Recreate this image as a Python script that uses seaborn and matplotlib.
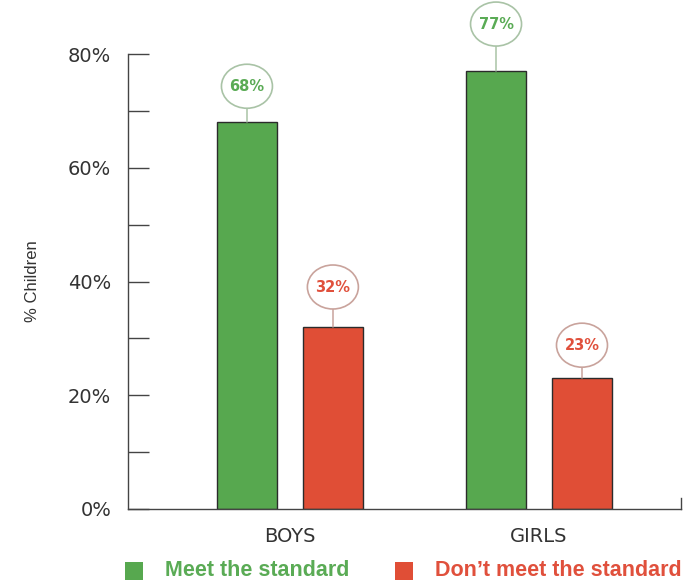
import matplotlib
matplotlib.use("Agg")
import matplotlib.pyplot as plt
from matplotlib.patches import Ellipse, Rectangle
from matplotlib.ticker import MultipleLocator, FuncFormatter
import seaborn as sns
import pandas as pd

groups = ["BOYS", "GIRLS"]
series = ["Meet the standard", "Don\u2019t meet the standard"]
meet = [68, 77]
dont_meet = [32, 23]
colors = ["#57a84f", "#e04e36"]
label_colors = ["#5aab55", "#e0503c"]
ring_colors = ["#a9c3a6", "#c9a39c"]

df = pd.DataFrame({
    "group": groups * 2,
    "status": [series[0]] * 2 + [series[1]] * 2,
    "value": meet + dont_meet,
})

sns.set_style("white")
plt.rcParams["font.family"] = ["DejaVu Sans"]

W, H = 693, 582
fig = plt.figure(figsize=(W / 100, H / 100), dpi=100)
ax = fig.add_axes([128 / W, 1 - 509 / H, 553 / W, 455 / H])

sns.barplot(data=df, x="group", y="value", hue="status", order=groups,
            hue_order=series, palette=colors, width=0.69, gap=0.30,
            edgecolor="#2b2b2b", linewidth=1.0, saturation=1, legend=False, ax=ax)

ax.set_xlim(-0.65, 1.570)
ax.set_ylim(0, 80)
px_y = 80 / 455.0   # data units per pixel vertically
px_x = 2.22 / 553.0  # data units per pixel horizontally

# Axis lines: left and bottom, plus a short end mark on the right
ax.spines["top"].set_visible(False)
ax.spines["right"].set_bounds(0, 11 * px_y)
for side in ["left", "bottom", "right"]:
    ax.spines[side].set_color("#444444")
    ax.spines[side].set_linewidth(1.0)

ax.yaxis.set_major_locator(MultipleLocator(20))
ax.yaxis.set_minor_locator(MultipleLocator(10))
ax.yaxis.set_major_formatter(FuncFormatter(lambda v, p: f"{int(v)}%"))
ax.tick_params(axis="y", which="both", direction="in", length=15, width=1,
               color="#444444", left=True, right=False, pad=12,
               labelsize=14, labelcolor="#333333")
ax.tick_params(axis="x", length=0, pad=13, labelsize=14, labelcolor="#333333")
ax.set_xlabel("")
ax.set_ylabel("% Children", fontsize=12, color="#333333", labelpad=20,
              family="Liberation Sans")

# Value callouts: ring above each bar, joined by a short stem (stem length in px)
stems = {("Meet", 0): 36, ("Meet", 1): 47, ("Dont", 0): 40, ("Dont", 1): 33}
ring_w, ring_h = 51 * px_x, 44 * px_y
for si, (container, vals) in enumerate(zip(ax.containers, [meet, dont_meet])):
    key = "Meet" if si == 0 else "Dont"
    for gi, (bar, v) in enumerate(zip(container, vals)):
        x = bar.get_x() + bar.get_width() / 2
        cy = v + stems[(key, gi)] * px_y
        ax.plot([x, x], [v, cy - ring_h / 2], color=ring_colors[si], lw=1.1,
                clip_on=False, zorder=3)
        ax.add_patch(Ellipse((x, cy), ring_w, ring_h, facecolor="white",
                             edgecolor=ring_colors[si], lw=1.2, clip_on=False, zorder=4))
        ax.text(x, cy, f"{v}%", ha="center", va="center", fontsize=10.5,
                fontweight="bold", color=label_colors[si], zorder=5, clip_on=False)

# Legend row along the bottom
legend_items = [(125, 165), (395, 435)]
for (sq_x, tx_x), name, c, tc in zip(legend_items, series, colors, label_colors):
    fig.patches.append(Rectangle((sq_x / W, 1 - 580 / H), 18 / W, 18 / H,
                                 transform=fig.transFigure, facecolor=c,
                                 edgecolor="none"))
    fig.text(tx_x / W, 1 - 571 / H, name, ha="left", va="center", fontsize=15.5,
             fontweight="bold", color=tc, family="Liberation Sans")

fig.savefig("out.png", dpi=100)
